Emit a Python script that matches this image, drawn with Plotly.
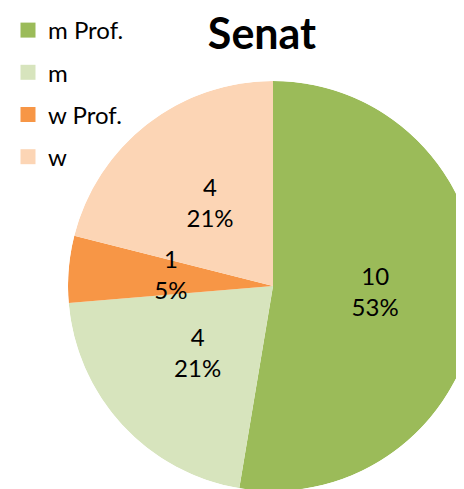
import plotly.graph_objects as go

labels = ['m Prof.', 'm', 'w Prof.', 'w']
values = [10, 4, 1, 4]
colors = ['#9BBB59', '#D7E4BD', '#F79646', '#FCD5B5']

W, H = 472, 489
FONT = 'Lato, Calibri, sans-serif'

total = sum(values)
percents = [round(v / total * 100) for v in values]
widths = [v / total * 360 for v in values]
# mid angle of each slice, clockwise from 12 o'clock
mids = []
acc = 0
for w in widths:
    mids.append(acc + w / 2)
    acc += w

fig = go.Figure()

# pie drawn as full-radius polar bars, so the labels can sit on top
fig.add_trace(go.Barpolar(r=[1] * len(values), theta=mids, width=widths,
                          marker=dict(color=colors, line=dict(width=0)),
                          text=labels, showlegend=False,
                          hovertemplate='%{text}<extra></extra>'))

# data labels at half radius on the slice middle, like Excel
fig.add_trace(go.Scatterpolar(r=[0.5] * len(values), theta=mids, mode='text',
                              text=[f'{v}<br>{p}%' for v, p in zip(values, percents)],
                              textfont=dict(size=24, color='black', family=FONT),
                              showlegend=False, hoverinfo='skip'))

# legend entries
for lab, col in zip(labels, colors):
    fig.add_trace(go.Scatterpolar(r=[None], theta=[None], mode='markers', name=lab,
                                  legendgroup=lab,
                                  marker=dict(symbol='square', size=15, color=col)))

fig.update_layout(
    width=W, height=H,
    margin=dict(l=0, r=0, t=0, b=0),
    paper_bgcolor='white',
    font=dict(family=FONT, color='black'),
    title=dict(text='<b>Senat</b>', font=dict(size=43, family=FONT, color='black'),
               x=254 / W, xanchor='center', y=1 - 26 / H, yanchor='middle'),
    polar=dict(domain=dict(x=[60 / W, 470 / W], y=[1 - 483 / H, 1 - 73 / H]),
               bgcolor='rgba(0,0,0,0)', bargap=0, hole=0,
               radialaxis=dict(range=[0, 1], visible=False),
               angularaxis=dict(direction='clockwise', rotation=90, visible=False)),
    legend=dict(x=0, y=1, xanchor='left', yanchor='top',
                font=dict(size=24, family=FONT), tracegroupgap=8,
                bgcolor='rgba(0,0,0,0)'),
)

fig.write_html('out.html')
